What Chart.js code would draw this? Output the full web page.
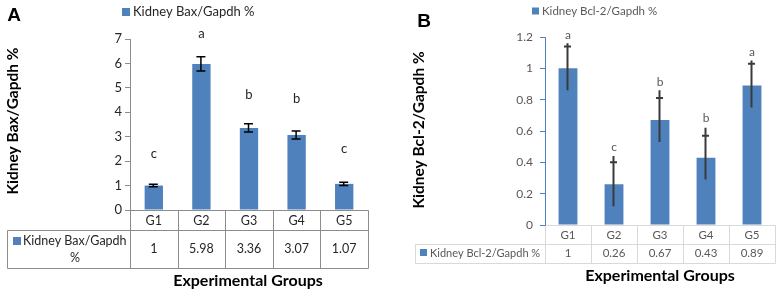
<!DOCTYPE html>
<html>
<head>
<meta charset="utf-8">
<script src="https://cdn.jsdelivr.net/npm/chart.js@4.4.1/dist/chart.umd.min.js"></script>
<style>
  html, body { margin: 0; padding: 0; background: #fff; }
  #wrap { position: relative; width: 780px; height: 294px; }
  canvas { position: absolute; top: 0; }
  #chartA { left: 0; }
  #chartB { left: 390px; }
</style>
</head>
<body>
<div id="wrap">
  <canvas id="chartA" width="390" height="294"></canvas>
  <canvas id="chartB" width="390" height="294"></canvas>
</div>
<script>
// datos
const groups = ['G1', 'G2', 'G3', 'G4', 'G5']

// panel A - Bax
const baxValues = [1, 5.98, 3.36, 3.07, 1.07]
const baxErrors = [0.05, 0.29, 0.17, 0.16, 0.07]
const baxLetters = ['c', 'a', 'b', 'b', 'c']
const baxLetterAt = [2.3, 7.2, 4.7, 4.55, 2.5]

// panel B - Bcl-2
const bclValues = [1, 0.26, 0.67, 0.43, 0.89]
const bclErrors = [0.14, 0.14, 0.14, 0.14, 0.14]
const bclWhiskerTop = [1.16, 0.44, 0.86, 0.62, 1.05]
const bclLetters = ['a', 'c', 'b', 'b', 'a']
const bclLetterAt = [1.215, 0.5, 0.915, 0.68, 1.105]

const BLUE = '#4f81bd'
const FONT = 'Lato, "Open Sans", sans-serif'

Chart.defaults.font.family = FONT

// dibuja tabla de datos, barras de error, letras, leyenda y titulos
const panelPlugin = {
    id: 'panel',
    afterDraw(chart, args, o) {
        const { ctx, chartArea: a, scales: { x, y } } = chart
        const n = o.values.length
        const step = x.getPixelForValue(1) - x.getPixelForValue(0)
        const r1 = a.bottom + o.row1
        const r2 = r1 + o.row2
        const line = (x1, y1, x2, y2) => {
            ctx.beginPath()
            ctx.moveTo(Math.round(x1) + 0.5, Math.round(y1) + 0.5)
            ctx.lineTo(Math.round(x2) + 0.5, Math.round(y2) + 0.5)
            ctx.stroke()
        }
        ctx.save()

        //tabla
        ctx.strokeStyle = o.gridColor
        ctx.lineWidth = 1
        line(a.left, a.bottom, a.right, a.bottom)
        line(o.tableLeft, r1, a.right, r1)
        line(o.tableLeft, r2, a.right, r2)
        line(o.tableLeft, r1, o.tableLeft, r2)
        for (let i = 0; i <= n; i++) {
            const px = x.getPixelForValue(0) - step / 2 + i * step
            line(px, a.bottom, px, r2)
        }
        if (o.axisColor) {
            ctx.strokeStyle = o.axisColor
            line(a.left, a.top, a.left, a.bottom)
        }

        //cabecera de la fila de datos
        ctx.fillStyle = BLUE
        ctx.fillRect(o.header.boxX, o.header.boxY, o.header.box, o.header.box)
        ctx.fillStyle = o.textColor
        ctx.font = o.tableFont
        ctx.textBaseline = 'middle'
        o.header.lines.forEach(l => {
            ctx.font = l.font || o.tableFont
            ctx.textAlign = l.align
            ctx.fillText(l.text, l.x, l.y)
        })
        ctx.font = o.tableFont

        //categorias y valores
        ctx.textAlign = 'center'
        chart.data.labels.forEach((g, i) => {
            ctx.fillText(g, x.getPixelForValue(i), (a.bottom + r1) / 2 + 1)
        })
        o.values.forEach((v, i) => {
            ctx.fillText(String(v), x.getPixelForValue(i), (r1 + r2) / 2 + o.valueShift)
        })

        //barras de error
        ctx.strokeStyle = o.errColor
        ctx.lineWidth = o.errWidth
        o.values.forEach((v, i) => {
            const cx = x.getPixelForValue(i) - 0.5
            const hi = y.getPixelForValue(v + o.errors[i])
            const lo = y.getPixelForValue(v - o.errors[i])
            const top = o.whiskerTop ? y.getPixelForValue(o.whiskerTop[i]) : hi
            ctx.beginPath()
            ctx.moveTo(cx, top); ctx.lineTo(cx, lo)
            ctx.moveTo(cx - o.cap, hi); ctx.lineTo(cx + o.cap, hi)
            if (o.bottomCap) { ctx.moveTo(cx - o.cap, lo); ctx.lineTo(cx + o.cap, lo) }
            ctx.stroke()
        })

        //letras de significancia
        ctx.fillStyle = o.textColor
        ctx.font = o.letterFont
        o.letters.forEach((t, i) => {
            ctx.fillText(t, x.getPixelForValue(i), y.getPixelForValue(o.letterAt[i]))
        })

        //leyenda
        ctx.fillStyle = BLUE
        ctx.fillRect(o.legend.x, o.legend.y - o.legend.box / 2, o.legend.box, o.legend.box)
        ctx.fillStyle = o.textColor
        ctx.font = o.legend.font
        ctx.textAlign = 'left'
        ctx.fillText(o.legend.text, o.legend.x + o.legend.box + 3, o.legend.y)

        //titulos
        ctx.fillStyle = '#000'
        ctx.font = 'bold 16px ' + FONT
        ctx.textAlign = 'center'
        ctx.fillText('Experimental Groups', o.xTitle.x, o.xTitle.y)
        ctx.save()
        ctx.font = 'bold 15.5px ' + FONT
        ctx.translate(o.yTitle.x, o.yTitle.y)
        ctx.rotate(-Math.PI / 2)
        ctx.fillText(o.yTitle.text, 0, 0)
        ctx.restore()
        ctx.font = 'bold 19px "Liberation Sans", Arial, sans-serif'
        ctx.fillText(o.panel.text, o.panel.x, o.panel.y)

        ctx.restore()
    }
}

const renderBax = () => {
    const data = {
        labels: groups,
        datasets: [{
            label: 'Kidney Bax/Gapdh %',
            data: baxValues,
            backgroundColor: BLUE,
            barPercentage: 0.385,
            categoryPercentage: 1
        }]
    }
    const options = {
        responsive: false,
        animation: false,
        layout: { padding: { top: 39, right: 22, bottom: 0, left: 0 } },
        plugins: {
            legend: { display: false },
            tooltip: { enabled: false },
            panel: {
                values: baxValues, errors: baxErrors, letters: baxLetters, letterAt: baxLetterAt,
                row1: 20, row2: 38, tableLeft: 7,
                gridColor: '#8c8c8c', textColor: '#262626',
                tableFont: '12.5px ' + FONT, letterFont: '13px ' + FONT, valueShift: 0,
                errColor: '#000', errWidth: 1.5, cap: 4.5, bottomCap: true,
                header: {
                    box: 8, boxX: 13, boxY: 237,
                    lines: [
                        { text: 'Kidney Bax/Gapdh', x: 23, y: 241, align: 'left' },
                        { text: '%', x: 75, y: 258, align: 'center' }
                    ]
                },
                legend: { x: 122, y: 12, box: 8, text: 'Kidney Bax/Gapdh %', font: '13px ' + FONT },
                xTitle: { x: 248, y: 281 },
                yTitle: { x: 13, y: 121, text: 'Kidney Bax/Gapdh %' },
                panel: { text: 'A', x: 14, y: 16 }
            }
        },
        scales: {
            y: {
                min: 0, max: 7,
                ticks: { stepSize: 1, color: '#262626', font: { size: 13 }, padding: 3 },
                grid: { drawOnChartArea: false, drawTicks: true, tickLength: 5, color: '#8c8c8c' },
                border: { color: '#8c8c8c' },
                afterFit: s => { s.width = 130 }
            },
            x: {
                grid: { display: false },
                border: { display: false },
                ticks: { display: false },
                afterFit: s => { s.height = 84 }
            }
        }
    }
    new Chart('chartA', { type: 'bar', data, options, plugins: [panelPlugin] })
}

const renderBcl = () => {
    const data = {
        labels: groups,
        datasets: [{
            label: 'Kidney Bcl-2/Gapdh %',
            data: bclValues,
            backgroundColor: BLUE,
            barPercentage: 0.41,
            categoryPercentage: 1
        }]
    }
    const options = {
        responsive: false,
        animation: false,
        layout: { padding: { top: 37, right: 5, bottom: 0, left: 0 } },
        plugins: {
            legend: { display: false },
            tooltip: { enabled: false },
            panel: {
                values: bclValues, errors: bclErrors, whiskerTop: bclWhiskerTop,
                letters: bclLetters, letterAt: bclLetterAt,
                row1: 19, row2: 19, tableLeft: 25,
                gridColor: '#d9d9d9', axisColor: '#4f81bd', textColor: '#595959',
                tableFont: '11.5px ' + FONT, letterFont: '12px ' + FONT, valueShift: 0,
                errColor: '#3a3a3a', errWidth: 2, cap: 3.5, bottomCap: false,
                header: {
                    box: 7, boxX: 30, boxY: 249,
                    lines: [
                        { text: 'Kidney Bcl-2/Gapdh %', x: 40, y: 253, align: 'left', font: '11px ' + FONT }
                    ]
                },
                legend: { x: 142, y: 11, box: 7, text: 'Kidney Bcl-2/Gapdh %', font: '11.5px ' + FONT },
                xTitle: { x: 270, y: 276 },
                yTitle: { x: 29, y: 130, text: 'Kidney Bcl-2/Gapdh %' },
                panel: { text: 'B', x: 34, y: 22 }
            }
        },
        scales: {
            y: {
                min: 0, max: 1.2,
                ticks: {
                    stepSize: 0.2, color: '#595959', font: { size: 12 }, padding: 7,
                    callback: v => String(+v.toFixed(1))
                },
                grid: { drawOnChartArea: false, drawTicks: true, tickLength: 5, color: '#4f81bd' },
                border: { color: '#4f81bd' },
                afterFit: s => { s.width = 155 }
            },
            x: {
                grid: { display: false },
                border: { display: false },
                ticks: { display: false },
                afterFit: s => { s.height = 69 }
            }
        }
    }
    new Chart('chartB', { type: 'bar', data, options, plugins: [panelPlugin] })
}

renderBax()
renderBcl()
</script>
</body>
</html>
